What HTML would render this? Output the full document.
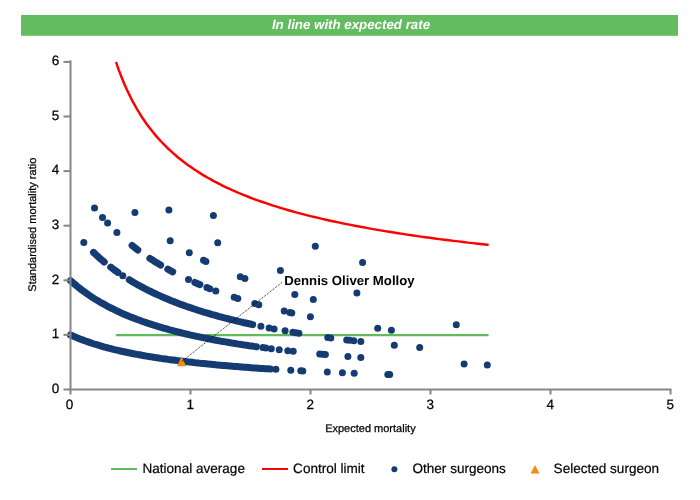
<!DOCTYPE html>
<html><head><meta charset="utf-8"><title>Chart</title>
<style>
html,body{margin:0;padding:0;background:#fff;}
body{width:700px;height:500px;overflow:hidden;position:relative;font-family:"Liberation Sans",sans-serif;}
svg{position:absolute;left:0;top:0;display:block;}
text{font-family:"Liberation Sans",sans-serif;fill:#000;text-rendering:geometricPrecision;}
.txt{filter:grayscale(1);}
.tk{font-size:13.5px;stroke:#000;stroke-width:0.25px;}
.ax{font-size:11px;stroke:#000;stroke-width:0.25px;}
.lg{font-size:13.56px;stroke:#000;stroke-width:0.2px;}
.ttl{font-size:13.3px;font-weight:bold;font-style:italic;fill:#fff;}
.ann{font-size:13.2px;font-weight:bold;}
</style></head><body>
<svg width="700" height="500" viewBox="0 0 700 500">
<rect x="0" y="0" width="700" height="500" fill="#ffffff"/>
<rect x="21" y="15" width="657" height="20.8" fill="#64BC60"/>
<line x1="115.8" y1="335.2" x2="488.6" y2="335.2" stroke="#62BA5C" stroke-width="2.2"/>
<path d="M116.3 62.9 L116.5 63.4 L116.9 64.4 L117.3 65.8 L117.9 67.5 L118.6 69.5 L119.4 71.6 L120.3 73.9 L121.2 76.3 L122.2 78.8 L123.3 81.5 L124.4 84.2 L125.7 86.9 L126.9 89.8 L128.3 92.6 L129.7 95.5 L131.1 98.4 L132.6 101.3 L134.2 104.1 L135.8 107.0 L137.4 109.9 L139.2 112.7 L140.9 115.5 L142.7 118.3 L144.6 121.0 L146.5 123.7 L148.5 126.4 L150.5 129.0 L152.5 131.6 L154.6 134.1 L156.7 136.6 L158.9 139.1 L161.1 141.5 L163.4 143.9 L165.7 146.2 L168.0 148.5 L170.4 150.7 L172.8 152.9 L175.3 155.0 L177.8 157.2 L180.4 159.2 L182.9 161.3 L185.5 163.2 L188.2 165.2 L190.9 167.1 L193.6 169.0 L196.4 170.8 L199.2 172.6 L202.0 174.4 L204.9 176.1 L207.8 177.8 L210.8 179.4 L213.7 181.1 L216.8 182.7 L219.8 184.2 L222.9 185.8 L226.0 187.3 L229.2 188.7 L232.3 190.2 L235.6 191.6 L238.8 193.0 L242.1 194.4 L245.4 195.7 L248.8 197.0 L252.1 198.3 L255.5 199.6 L259.0 200.8 L262.5 202.0 L266.0 203.2 L269.5 204.4 L273.1 205.6 L276.7 206.7 L280.3 207.8 L284.0 208.9 L287.6 210.0 L291.4 211.0 L295.1 212.1 L298.9 213.1 L302.7 214.1 L306.5 215.1 L310.4 216.1 L314.3 217.0 L318.2 217.9 L322.2 218.9 L326.2 219.8 L330.2 220.7 L334.2 221.5 L338.3 222.4 L342.4 223.3 L346.5 224.1 L350.7 224.9 L354.8 225.7 L359.0 226.5 L363.3 227.3 L367.5 228.1 L371.8 228.9 L376.1 229.6 L380.5 230.4 L384.9 231.1 L389.3 231.8 L393.7 232.5 L398.1 233.2 L402.6 233.9 L407.1 234.6 L411.6 235.2 L416.2 235.9 L420.8 236.6 L425.4 237.2 L430.0 237.8 L434.7 238.5 L439.4 239.1 L444.1 239.7 L448.8 240.3 L453.6 240.9 L458.4 241.4 L463.2 242.0 L468.0 242.6 L472.9 243.1 L477.8 243.7 L482.7 244.2 L487.6 244.8" fill="none" stroke="#FF0000" stroke-width="2.45" stroke-linecap="round"/>
<path d="M70.5 335.0 L72.9 336.0 L75.3 337.1 L77.6 338.0 L80.0 339.0 L82.4 339.9 L84.8 340.8 L87.2 341.6 L89.5 342.4 L91.9 343.2 L94.3 344.0 L96.7 344.7 L99.0 345.4 L101.4 346.1 L103.8 346.8 L106.2 347.5 L108.6 348.1 L110.9 348.7 L113.3 349.3 L115.7 349.9 L118.1 350.4 L120.5 351.0 L122.8 351.5 L125.2 352.0 L127.6 352.5 L130.0 353.0 L132.3 353.5 L134.7 354.0 L137.1 354.4 L139.5 354.8 L141.9 355.3 L144.2 355.7 L146.6 356.1 L149.0 356.5 L151.4 356.9 L153.8 357.3 L156.1 357.6 L158.5 358.0 L160.9 358.4 L163.3 358.7 L165.6 359.0 L168.0 359.4 L170.4 359.7 L172.8 360.0 L175.2 360.3 L177.5 360.6 L179.9 360.9 L182.3 361.2 L184.7 361.5 L187.1 361.8 L189.4 362.1 L191.8 362.3 L194.2 362.6 L196.6 362.9 L198.9 363.1 L201.3 363.4 L203.7 363.6 L206.1 363.8 L208.5 364.1 L210.8 364.3 L213.2 364.5 L215.6 364.8 L218.0 365.0 L220.3 365.2 L222.7 365.4 L225.1 365.6 L227.5 365.8 L229.9 366.0 L232.2 366.2 L234.6 366.4 L237.0 366.6 L239.4 366.8 L241.8 367.0 L244.1 367.2 L246.5 367.3 L248.9 367.5 L251.3 367.7 L253.7 367.9 L256.0 368.0 L258.4 368.2 L260.8 368.4 L263.2 368.5 L265.5 368.7 L267.9 368.8 L270.3 369.0" fill="none" stroke="#143C73" stroke-width="7.0" stroke-linecap="round" stroke-linejoin="round"/>
<path d="M70.5 280.6 L72.9 282.7 L75.3 284.7 L77.6 286.7 L80.0 288.6 L82.4 290.4 L84.8 292.1 L87.2 293.8 L89.6 295.5 L91.9 297.1 L94.3 298.6 L96.7 300.1 L99.1 301.5 L101.5 302.9 L103.9 304.2 L106.2 305.5 L108.6 306.8 L111.0 308.0 L113.4 309.2 L115.8 310.4 L118.2 311.5 L120.5 312.6 L122.9 313.7 L125.3 314.7 L127.7 315.7 L130.1 316.7 L132.5 317.6 L134.8 318.5 L137.2 319.5 L139.6 320.3 L142.0 321.2 L144.4 322.0 L146.8 322.9 L149.1 323.6 L151.5 324.4 L153.9 325.2 L156.3 325.9 L158.7 326.7 L161.1 327.4 L163.4 328.1 L165.8 328.7 L168.2 329.4 L170.6 330.1 L173.0 330.7 L175.4 331.3 L177.7 331.9 L180.1 332.5 L182.5 333.1 L184.9 333.7 L187.3 334.2 L189.7 334.8 L192.0 335.3 L194.4 335.9 L196.8 336.4 L199.2 336.9 L201.6 337.4 L204.0 337.9 L206.3 338.3 L208.7 338.8 L211.1 339.3 L213.5 339.7 L215.9 340.2 L218.3 340.6 L220.6 341.1 L223.0 341.5 L225.4 341.9 L227.8 342.3 L230.2 342.7 L232.5 343.1 L234.9 343.5 L237.3 343.9 L239.7 344.2 L242.1 344.6 L244.5 345.0 L246.8 345.3 L249.2 345.7 L251.6 346.0 L254.0 346.4 L256.4 346.7" fill="none" stroke="#143C73" stroke-width="7.0" stroke-linecap="round" stroke-linejoin="round"/>
<path d="M93.5 252.4 L95.7 254.5 L97.8 256.4 L99.9 258.3 L102.1 260.2 L104.2 262.0" fill="none" stroke="#143C73" stroke-width="7.0" stroke-linecap="round" stroke-linejoin="round"/>
<path d="M110.7 267.1 L112.5 268.5 L114.3 269.8 L116.1 271.1 L117.9 272.4" fill="none" stroke="#143C73" stroke-width="7.0" stroke-linecap="round" stroke-linejoin="round"/>
<path d="M129.3 279.8 L131.7 281.3 L134.0 282.7 L136.4 284.0 L138.8 285.4 L141.2 286.6 L143.5 287.9 L145.9 289.1 L148.3 290.3 L150.7 291.5 L153.0 292.7 L155.4 293.8 L157.8 294.9 L160.1 295.9 L162.5 297.0 L164.9 298.0 L167.3 299.0 L169.6 300.0 L172.0 301.0 L174.4 301.9 L176.7 302.8 L179.1 303.7 L181.5 304.6 L183.9 305.4 L186.2 306.3 L188.6 307.1 L191.0 307.9 L193.4 308.7 L195.7 309.5 L198.1 310.3 L200.5 311.0 L202.8 311.8 L205.2 312.5 L207.6 313.2 L210.0 313.9 L212.3 314.6 L214.7 315.2 L217.1 315.9 L219.4 316.6 L221.8 317.2 L224.2 317.8 L226.6 318.4 L228.9 319.0 L231.3 319.6 L233.7 320.2 L236.1 320.8 L238.4 321.4 L240.8 321.9 L243.2 322.5 L245.5 323.0 L247.9 323.5 L250.3 324.0 L252.7 324.6" fill="none" stroke="#143C73" stroke-width="7.0" stroke-linecap="round" stroke-linejoin="round"/>
<path d="M132.1 245.5 L134.0 247.0 L135.9 248.5 L137.8 250.0" fill="none" stroke="#143C73" stroke-width="7.0" stroke-linecap="round" stroke-linejoin="round"/>
<path d="M149.9 258.4 L152.1 259.8 L154.2 261.2 L156.3 262.5 L158.5 263.8 L160.6 265.1" fill="none" stroke="#143C73" stroke-width="7.0" stroke-linecap="round" stroke-linejoin="round"/>
<path d="M167.8 269.2 L169.5 270.1 L171.1 271.0 L172.7 271.9" fill="none" stroke="#143C73" stroke-width="7.0" stroke-linecap="round" stroke-linejoin="round"/>
<path d="M194.9 282.5 L196.6 283.2 L198.2 284.0 L199.9 284.6" fill="none" stroke="#143C73" stroke-width="7.0" stroke-linecap="round" stroke-linejoin="round"/>
<circle cx="275.9" cy="369.3" r="3.5" fill="#143C73"/>
<circle cx="290.8" cy="370.2" r="3.5" fill="#143C73"/>
<circle cx="300.8" cy="370.8" r="3.5" fill="#143C73"/>
<circle cx="302.8" cy="370.9" r="3.5" fill="#143C73"/>
<circle cx="327.3" cy="372.1" r="3.5" fill="#143C73"/>
<circle cx="342.4" cy="372.7" r="3.5" fill="#143C73"/>
<circle cx="354.2" cy="373.2" r="3.5" fill="#143C73"/>
<circle cx="387.8" cy="374.5" r="3.5" fill="#143C73"/>
<circle cx="389.7" cy="374.5" r="3.5" fill="#143C73"/>
<circle cx="262.9" cy="347.6" r="3.5" fill="#143C73"/>
<circle cx="265.9" cy="348.0" r="3.5" fill="#143C73"/>
<circle cx="271.3" cy="348.7" r="3.5" fill="#143C73"/>
<circle cx="279.2" cy="349.7" r="3.5" fill="#143C73"/>
<circle cx="287.8" cy="350.7" r="3.5" fill="#143C73"/>
<circle cx="293.2" cy="351.3" r="3.5" fill="#143C73"/>
<circle cx="319.7" cy="354.0" r="3.5" fill="#143C73"/>
<circle cx="322.7" cy="354.3" r="3.5" fill="#143C73"/>
<circle cx="325.4" cy="354.6" r="3.5" fill="#143C73"/>
<circle cx="347.9" cy="356.5" r="3.5" fill="#143C73"/>
<circle cx="360.8" cy="357.6" r="3.5" fill="#143C73"/>
<circle cx="464.1" cy="364.0" r="3.5" fill="#143C73"/>
<circle cx="487.3" cy="365.1" r="3.5" fill="#143C73"/>
<circle cx="83.8" cy="242.5" r="3.5" fill="#143C73"/>
<circle cx="122.8" cy="275.7" r="3.5" fill="#143C73"/>
<circle cx="260.9" cy="326.3" r="3.5" fill="#143C73"/>
<circle cx="269.1" cy="327.9" r="3.5" fill="#143C73"/>
<circle cx="274.1" cy="328.9" r="3.5" fill="#143C73"/>
<circle cx="285.1" cy="330.8" r="3.5" fill="#143C73"/>
<circle cx="292.9" cy="332.2" r="3.5" fill="#143C73"/>
<circle cx="295.9" cy="332.7" r="3.5" fill="#143C73"/>
<circle cx="298.9" cy="333.2" r="3.5" fill="#143C73"/>
<circle cx="327.8" cy="337.5" r="3.5" fill="#143C73"/>
<circle cx="330.8" cy="337.9" r="3.5" fill="#143C73"/>
<circle cx="346.7" cy="340.0" r="3.5" fill="#143C73"/>
<circle cx="349.7" cy="340.3" r="3.5" fill="#143C73"/>
<circle cx="353.8" cy="340.8" r="3.5" fill="#143C73"/>
<circle cx="360.8" cy="341.6" r="3.5" fill="#143C73"/>
<circle cx="394.3" cy="345.3" r="3.5" fill="#143C73"/>
<circle cx="419.7" cy="347.6" r="3.5" fill="#143C73"/>
<circle cx="94.5" cy="208.0" r="3.5" fill="#143C73"/>
<circle cx="102.5" cy="217.6" r="3.5" fill="#143C73"/>
<circle cx="107.6" cy="223.1" r="3.5" fill="#143C73"/>
<circle cx="116.9" cy="232.5" r="3.5" fill="#143C73"/>
<circle cx="188.5" cy="279.6" r="3.5" fill="#143C73"/>
<circle cx="206.9" cy="287.5" r="3.5" fill="#143C73"/>
<circle cx="209.8" cy="288.7" r="3.5" fill="#143C73"/>
<circle cx="215.8" cy="290.9" r="3.5" fill="#143C73"/>
<circle cx="234.2" cy="297.3" r="3.5" fill="#143C73"/>
<circle cx="237.8" cy="298.5" r="3.5" fill="#143C73"/>
<circle cx="254.8" cy="303.6" r="3.5" fill="#143C73"/>
<circle cx="258.8" cy="304.7" r="3.5" fill="#143C73"/>
<circle cx="284.2" cy="311.1" r="3.5" fill="#143C73"/>
<circle cx="289.9" cy="312.4" r="3.5" fill="#143C73"/>
<circle cx="291.8" cy="312.9" r="3.5" fill="#143C73"/>
<circle cx="310.4" cy="316.8" r="3.5" fill="#143C73"/>
<circle cx="377.7" cy="328.3" r="3.5" fill="#143C73"/>
<circle cx="391.4" cy="330.2" r="3.5" fill="#143C73"/>
<circle cx="134.9" cy="212.4" r="3.5" fill="#143C73"/>
<circle cx="170.2" cy="240.8" r="3.5" fill="#143C73"/>
<circle cx="189.3" cy="252.7" r="3.5" fill="#143C73"/>
<circle cx="203.5" cy="260.3" r="3.5" fill="#143C73"/>
<circle cx="205.9" cy="261.5" r="3.5" fill="#143C73"/>
<circle cx="240.3" cy="276.7" r="3.5" fill="#143C73"/>
<circle cx="244.9" cy="278.5" r="3.5" fill="#143C73"/>
<circle cx="294.8" cy="294.6" r="3.5" fill="#143C73"/>
<circle cx="313.3" cy="299.4" r="3.5" fill="#143C73"/>
<circle cx="456.3" cy="324.8" r="3.5" fill="#143C73"/>
<circle cx="168.9" cy="210.0" r="3.5" fill="#143C73"/>
<circle cx="217.7" cy="242.8" r="3.5" fill="#143C73"/>
<circle cx="280.4" cy="270.6" r="3.5" fill="#143C73"/>
<circle cx="356.9" cy="293.0" r="3.5" fill="#143C73"/>
<circle cx="213.4" cy="215.5" r="3.5" fill="#143C73"/>
<circle cx="315.3" cy="246.2" r="3.5" fill="#143C73"/>
<circle cx="362.6" cy="262.6" r="3.5" fill="#143C73"/>
<rect x="69.5" y="60.4" width="2" height="330.1" fill="#868686"/>
<rect x="69.5" y="388.5" width="602" height="2" fill="#868686"/>
<rect x="63.5" y="388.5" width="7" height="2" fill="#868686"/>
<rect x="63.5" y="333.9" width="7" height="2" fill="#868686"/>
<rect x="63.5" y="279.3" width="7" height="2" fill="#868686"/>
<rect x="63.5" y="224.7" width="7" height="2" fill="#868686"/>
<rect x="63.5" y="170.1" width="7" height="2" fill="#868686"/>
<rect x="63.5" y="115.5" width="7" height="2" fill="#868686"/>
<rect x="63.5" y="60.9" width="7" height="2" fill="#868686"/>
<rect x="69.5" y="389.5" width="2" height="5" fill="#868686"/>
<rect x="189.5" y="389.5" width="2" height="5" fill="#868686"/>
<rect x="309.5" y="389.5" width="2" height="5" fill="#868686"/>
<rect x="429.5" y="389.5" width="2" height="5" fill="#868686"/>
<rect x="549.5" y="389.5" width="2" height="5" fill="#868686"/>
<rect x="669.5" y="389.5" width="2" height="5" fill="#868686"/>
<polygon points="181.5,356.7 177,366.3 186.3,366.3" fill="#F78A14"/>
<line x1="182.1" y1="361.2" x2="282.5" y2="282" stroke="#000" stroke-width="0.9" stroke-dasharray="1 1"/>
<rect x="111" y="468" width="26" height="2" fill="#62BA5C"/>
<rect x="262" y="468" width="26" height="2" fill="#FF0000"/>
<circle cx="394.4" cy="469.3" r="3" fill="#143C73"/>
<polygon points="535,465 530.5,473.6 539.5,473.6" fill="#F78A14"/>
<g class="txt">
<text x="351" y="28.7" text-anchor="middle" class="ttl">In line with expected rate</text>
<text x="59.2" y="392.7" text-anchor="end" class="tk">0</text>
<text x="59.2" y="338.1" text-anchor="end" class="tk">1</text>
<text x="59.2" y="283.5" text-anchor="end" class="tk">2</text>
<text x="59.2" y="228.9" text-anchor="end" class="tk">3</text>
<text x="59.2" y="174.3" text-anchor="end" class="tk">4</text>
<text x="59.2" y="119.7" text-anchor="end" class="tk">5</text>
<text x="59.2" y="65.1" text-anchor="end" class="tk">6</text>
<text x="69.5" y="408.6" text-anchor="middle" class="tk">0</text>
<text x="190.2" y="408.6" text-anchor="middle" class="tk">1</text>
<text x="310.2" y="408.6" text-anchor="middle" class="tk">2</text>
<text x="430.2" y="408.6" text-anchor="middle" class="tk">3</text>
<text x="550.2" y="408.6" text-anchor="middle" class="tk">4</text>
<text x="670.2" y="408.6" text-anchor="middle" class="tk">5</text>
<text x="284.2" y="284.8" class="ann">Dennis Oliver Molloy</text>
<text x="370.4" y="431.9" text-anchor="middle" class="ax">Expected mortality</text>
<text transform="translate(36.2,224.7) rotate(-90)" text-anchor="middle" class="ax">Standardised mortality ratio</text>
<text x="142.5" y="473" class="lg">National average</text>
<text x="293.1" y="473" class="lg">Control limit</text>
<text x="412.5" y="473" class="lg">Other surgeons</text>
<text x="553.6" y="473" class="lg">Selected surgeon</text>
</g>
</svg>
</body></html>
